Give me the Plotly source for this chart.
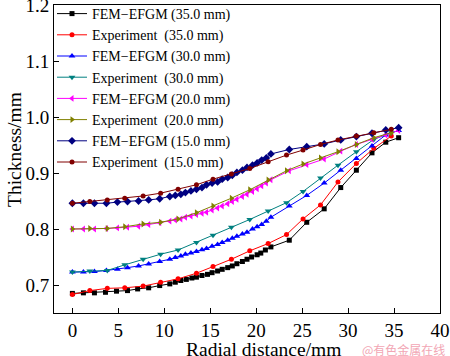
import plotly.graph_objects as go

# ---- data ----
fem35_x = [0, 1.2, 2.4, 3.6, 4.8, 6.0, 7.1, 8.3, 9.5, 10.6, 11.2, 11.8, 12.4, 13.0, 13.5, 14.1, 14.7, 15.2,
           15.8, 16.3, 16.9, 17.4, 17.9, 18.5, 19.0, 19.5, 20.1, 20.5, 21.0, 21.6, 23.6, 25.5, 27.4, 29.2,
           30.9, 32.6, 34.1, 35.5]
fem35_y = [0.685, 0.686, 0.686, 0.687, 0.689, 0.690, 0.693, 0.695, 0.699, 0.702, 0.705, 0.708, 0.710, 0.7125,
           0.714, 0.717, 0.719, 0.722, 0.725, 0.728, 0.731, 0.734, 0.738, 0.742, 0.746, 0.750, 0.754, 0.757,
           0.7625, 0.768, 0.780, 0.812, 0.836, 0.874, 0.905, 0.936, 0.955, 0.963]

exp_x = [0, 1.9, 3.8, 5.7, 7.7, 9.6, 11.5, 13.5, 15.3, 17.3, 19.3, 21.3, 23.3, 25.1, 27.0, 28.9, 30.9, 32.8, 34.7]
exp35_y = [0.683, 0.690, 0.694, 0.695, 0.698, 0.705, 0.711, 0.721, 0.733, 0.746, 0.761, 0.774, 0.790, 0.818,
           0.843, 0.884, 0.917, 0.944, 0.966]

fem_x = [0, 1.2, 2.4, 3.7, 4.9, 6.0, 7.2, 8.3, 9.5, 10.6, 11.2, 11.8, 12.3, 12.9, 13.5, 14.1, 14.6, 15.2, 15.8,
         16.3, 16.9, 17.4, 17.9, 18.5, 19.0, 19.6, 20.1, 20.6, 21.1, 21.6, 23.6, 25.5, 27.4, 29.2, 30.9, 32.6,
         34.1, 35.5]
fem30_y = [0.723, 0.723, 0.724, 0.726, 0.728, 0.731, 0.734, 0.7375, 0.742, 0.746, 0.749, 0.752, 0.755, 0.757,
           0.760, 0.763, 0.765, 0.769, 0.7725, 0.776, 0.780, 0.7835, 0.787, 0.791, 0.794, 0.800, 0.804, 0.808,
           0.814, 0.821, 0.841, 0.860, 0.882, 0.905, 0.926, 0.948, 0.968, 0.976]
exp30_y = [0.723, 0.725, 0.726, 0.736, 0.746, 0.755, 0.7625, 0.776, 0.789, 0.803, 0.817, 0.832, 0.847, 0.867,
           0.891, 0.914, 0.938, 0.960, 0.972]
fem20_y = [0.800, 0.800, 0.800, 0.801, 0.802, 0.803, 0.805, 0.808, 0.811, 0.814, 0.816, 0.818, 0.821, 0.823,
           0.826, 0.828, 0.830, 0.834, 0.8375, 0.841, 0.845, 0.849, 0.853, 0.858, 0.862, 0.867, 0.872, 0.877,
           0.882, 0.888, 0.904, 0.915, 0.925, 0.939, 0.951, 0.960, 0.968, 0.976]
exp20_y = [0.800, 0.801, 0.801, 0.804, 0.809, 0.812, 0.818, 0.829, 0.841, 0.855, 0.870, 0.8875, 0.904, 0.916,
           0.927, 0.938, 0.951, 0.963, 0.972]
fem15_y = [0.846, 0.846, 0.846, 0.846, 0.848, 0.849, 0.850, 0.852, 0.854, 0.858, 0.860, 0.862, 0.865, 0.868,
           0.871, 0.874, 0.879, 0.882, 0.884, 0.889, 0.892, 0.896, 0.901, 0.905, 0.910, 0.914, 0.918, 0.923,
           0.927, 0.934, 0.942, 0.947, 0.952, 0.959, 0.965, 0.971, 0.977, 0.981]
exp15_y = [0.846, 0.849, 0.852, 0.855, 0.859, 0.864, 0.871, 0.879, 0.889, 0.898, 0.908, 0.920, 0.932, 0.941,
           0.951, 0.959, 0.966, 0.972, 0.978]

x_ticks = [0, 5, 10, 15, 20, 25, 30, 35, 40]
y_ticks = [0.7, 0.8, 0.9, 1.0, 1.1, 1.2]

NB = "\u00a0"
series = [
    ("FEM\u2212EFGM (35.0 mm)", fem35_x, fem35_y, "#000000", "square", 5),
    ("Experiment" + NB * 2 + "(35.0 mm)", exp_x, exp35_y, "#ff0000", "circle", 5),
    ("FEM\u2212EFGM (30.0 mm)", fem_x, fem30_y, "#0000ff", "triangle-up", 6),
    ("Experiment" + NB * 2 + "(30.0 mm)", exp_x, exp30_y, "#008080", "triangle-down", 6),
    ("FEM\u2212EFGM (20.0 mm)", fem_x, fem20_y, "#ff00ff", "triangle-left", 6),
    ("Experiment" + NB * 2 + "(20.0 mm)", exp_x, exp20_y, "#808000", "triangle-right", 6),
    ("FEM\u2212EFGM (15.0 mm)", fem_x, fem15_y, "#000080", "diamond", 6),
    ("Experiment" + NB * 2 + "(15.0 mm)", exp_x, exp15_y, "#800000", "circle", 5),
]

fig = go.Figure()
for name, xs, ys, col, sym, sz in series:
    fig.add_trace(go.Scatter(
        x=xs, y=ys, name=name, mode="lines+markers",
        line=dict(color=col, width=1),
        marker=dict(symbol=sym, size=sz, color=col, line=dict(width=0)),
    ))

FONT = "Liberation Serif"
W, H = 450, 356
L, R, T, B = 54, 10, 5, 43
PW, PH = W - L - R, H - T - B

fig.update_layout(
    width=W, height=H,
    margin=dict(l=L, r=R, t=T, b=B, autoexpand=False),
    paper_bgcolor="white", plot_bgcolor="white",
    font=dict(family=FONT, size=19, color="black"),
    hovermode=False,
    showlegend=True,
    legend=dict(x=(52 - L) / PW, y=1 + 7 / PH, xanchor="left", yanchor="top",
                bgcolor="rgba(0,0,0,0)", font=dict(family=FONT, size=14, color="black"),
                itemwidth=30, maxheight=600),
    xaxis=dict(range=[-2, 40], tickvals=x_ticks, showline=True, linecolor="black", linewidth=1,
               mirror=True, ticks="inside", ticklen=5, tickcolor="black", showgrid=False,
               zeroline=False, tickfont=dict(family=FONT, size=19), ticklabeloverflow="allow",
               automargin=False),
    yaxis=dict(range=[0.65, 1.2], tickvals=y_ticks, tickformat=".1f", showline=True, linecolor="black",
               linewidth=1, mirror=True, ticks="inside", ticklen=5, tickcolor="black", showgrid=False,
               zeroline=False, tickfont=dict(family=FONT, size=19), ticklabeloverflow="allow",
               automargin=False),
    annotations=[
        dict(text="Radial distance/mm", xref="paper", yref="paper", x=(263 - L) / PW, y=-(349 - 313) / PH,
             xanchor="center", yanchor="middle", showarrow=False, font=dict(family=FONT, size=19.5)),
        dict(text="Thickness/mm", xref="paper", yref="paper", x=-(L - 14) / PW, y=(313 - 150) / PH,
             xanchor="center", yanchor="middle", textangle=-90, showarrow=False,
             font=dict(family=FONT, size=19.5)),
        dict(text="@有色金属在线", xref="paper", yref="paper", x=(447 - L) / PW, y=-(349 - 313) / PH,
             xanchor="right", yanchor="middle", showarrow=False,
             font=dict(family="Noto Sans CJK SC", size=12, color="#f2a6b4")),
    ],
)

fig.write_html("out.html", config={"displayModeBar": False},
               post_script="document.body.style.margin='0';document.body.style.overflow='hidden';")
